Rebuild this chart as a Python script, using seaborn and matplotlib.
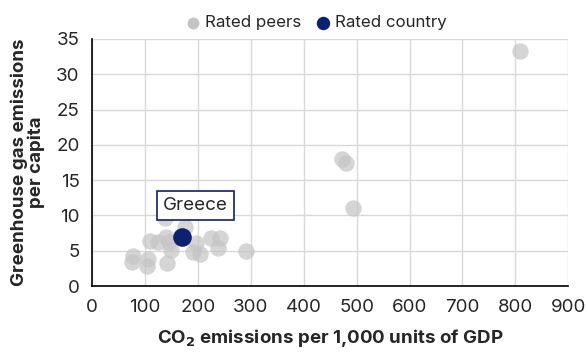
import pandas as pd
import seaborn as sns
import matplotlib.pyplot as plt

# Peer values
peer_co2 = [77, 75, 105, 104, 109, 124, 139, 141, 146, 149, 137, 176,
            197, 190, 203, 224, 241, 237, 291, 473, 480, 493, 808]
peer_ghg = [4.3, 3.4, 3.8, 2.9, 6.4, 6.3, 7.0, 3.2, 6.2, 5.1, 9.6, 8.3,
            6.1, 4.8, 4.5, 6.8, 6.8, 5.4, 4.9, 18.0, 17.4, 11.0, 33.3]

country_name = "Greece"
country_co2 = [170]
country_ghg = [7.0]

groups = ["Rated peers", "Rated country"]
colors = {"Rated peers": "#c4c4c4", "Rated country": "#0c2170"}

df = pd.concat([
    pd.DataFrame({"co2": peer_co2, "ghg": peer_ghg, "group": groups[0]}),
    pd.DataFrame({"co2": country_co2, "ghg": country_ghg, "group": groups[1]}),
])

sns.set_style("white")
plt.rcParams["font.family"] = ["Inter", "DejaVu Sans"]
fs = 13.5

fig, ax = plt.subplots(figsize=(5.87, 3.54), dpi=100)
fig.subplots_adjust(left=0.157, right=0.968, top=0.89, bottom=0.192)

# Peers first (semi-transparent), then the rated country on top
sns.scatterplot(data=df[df["group"] == groups[0]], x="co2", y="ghg", color=colors[groups[0]],
                s=140, alpha=0.7, linewidth=0, ax=ax, label=groups[0], zorder=3)
sns.scatterplot(data=df[df["group"] == groups[1]], x="co2", y="ghg", color=colors[groups[1]],
                s=180, linewidth=0, ax=ax, label=groups[1], zorder=4)

ax.annotate(country_name, xy=(country_co2[0], country_ghg[0]), xytext=(195, 11.4),
            ha="center", va="center", fontsize=fs, zorder=5,
            bbox=dict(boxstyle="square,pad=0.32", fc="white", ec=colors[groups[1]], lw=1.2))

ax.set_xlim(0, 900)
ax.set_ylim(0, 35)
ax.set_xticks(range(0, 901, 100))
ax.set_yticks(range(0, 36, 5))
ax.grid(True, color="#d9d9d9", linewidth=1)
ax.set_axisbelow(True)
for side in ["top", "right"]:
    ax.spines[side].set_visible(False)
for side in ["left", "bottom"]:
    ax.spines[side].set_color("black")
    ax.spines[side].set_linewidth(1.2)
ax.tick_params(axis="both", length=0, labelsize=fs, pad=9)

ax.set_xlabel("CO$_\\mathbf{2}$ emissions per 1,000 units of GDP", fontsize=fs,
              fontweight="bold", labelpad=8)
ax.set_ylabel("Greenhouse gas emissions\nper capita", fontsize=fs, fontweight="bold",
              labelpad=8, linespacing=1.0)

leg = ax.legend(loc="lower center", bbox_to_anchor=(0.46, 1.0), ncol=2, frameon=False,
                fontsize=12.2, handletextpad=-0.3, columnspacing=0.3, markerscale=0.72,
                borderaxespad=0.1)
for h in leg.legend_handles:
    h.set_alpha(1)

plt.savefig("out.png", dpi=100)
